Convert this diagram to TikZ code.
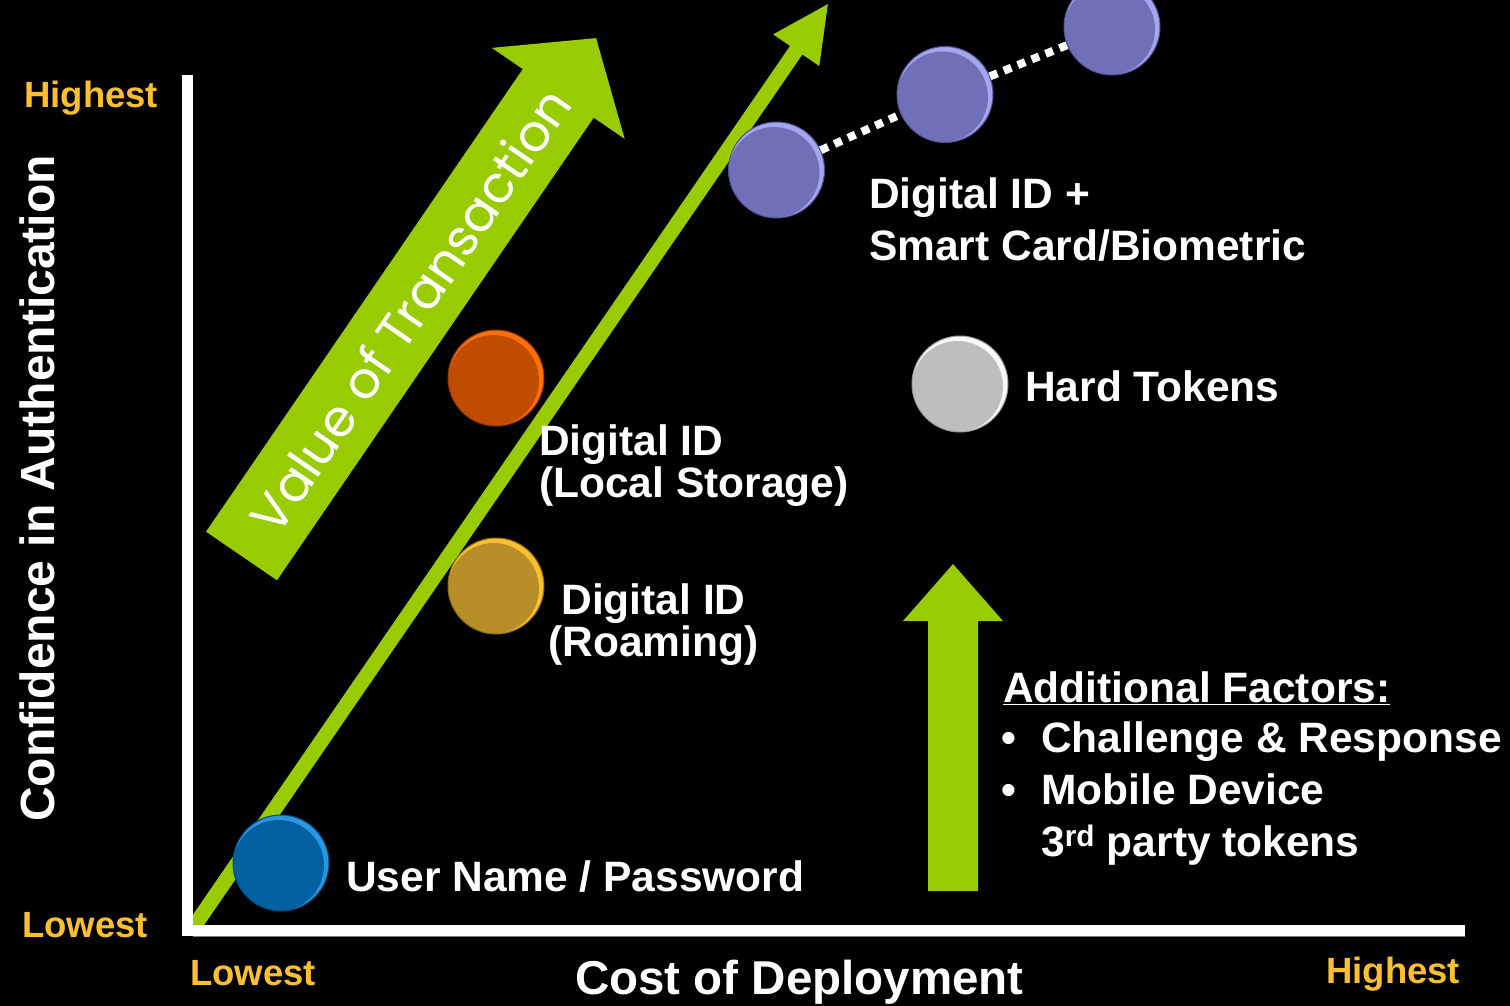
\documentclass[tikz,border=0pt]{standalone}
\usepackage{fontspec}
\setmainfont{Liberation Sans}
\newfontfamily\vfont{Poppins}
\definecolor{grn}{RGB}{153,204,0}
\definecolor{axisyellow}{RGB}{250,192,50}
\definecolor{bluemain}{RGB}{0,96,160}
\definecolor{bluelight}{RGB}{40,150,225}
\definecolor{bluedark}{RGB}{0,70,120}
\definecolor{orgmain}{RGB}{192,76,0}
\definecolor{orglight}{RGB}{255,112,10}
\definecolor{orgdark}{RGB}{140,50,0}
\definecolor{goldmain}{RGB}{184,142,40}
\definecolor{goldlight}{RGB}{250,192,50}
\definecolor{golddark}{RGB}{140,105,25}
\definecolor{graymain}{RGB}{190,190,190}
\definecolor{graylight}{RGB}{248,248,248}
\definecolor{graydark}{RGB}{150,150,150}
\definecolor{purmain}{RGB}{112,112,184}
\definecolor{purlight}{RGB}{165,165,240}
\definecolor{purdark}{RGB}{80,80,140}
\begin{document}
\begin{tikzpicture}[x=1pt,y=-1pt,
  lbl/.style={text=white,font=\bfseries\fontsize{42.5}{50}\selectfont,inner sep=0pt,anchor=base west},
  ylbl/.style={text=axisyellow,font=\bfseries\fontsize{36.5}{42}\selectfont,inner sep=0pt,anchor=base west},
  ball/.style n args={3}{circle,minimum size=96pt,inner sep=0pt,fill=#2,draw=#3,line width=1pt,
    path picture={\fill[#1] ([xshift=-2.5pt,yshift=-2.5pt]path picture bounding box.center) circle (45.5pt);}},
  dotline/.style={white,line width=8pt,dash pattern=on 8pt off 7pt}]
\useasboundingbox (0,0) rectangle (1510,1006);
\fill[black] (0,0) rectangle (1510,1006);
\clip (0,0) rectangle (1510,1006);

% big "Value of Transaction" arrow
\begin{scope}[shift={(241.5,556)},rotate=55.6]
  \fill[grn] (0,-43) -- (560.7,-43) -- (560.7,-80.5) -- (627.7,0) -- (560.7,80.5) -- (560.7,43) -- (0,43) -- cycle;
  \node[transform shape,text=white,font=\vfont\fontsize{51}{60}\selectfont,inner sep=0pt] (vot) at (298,0) {Value of Transaction};
\end{scope}

% thin diagonal arrow
\begin{scope}[shift={(195,925)},rotate=55.5]
  \fill[grn] (-6,-7.5) -- (1061.5,-7.5) -- (1061.5,-28) -- (1117.5,0) -- (1061.5,28) -- (1061.5,7.5) -- (-6,7.5) -- cycle;
\end{scope}

% vertical arrow
\fill[grn] (928,891) -- (928,621) -- (903,621) -- (953,564) -- (1003,621) -- (978,621) -- (978,891) -- cycle;

% axes
\fill[white] (182,75) rectangle (193,936);
\fill[white] (182,925) rectangle (1465,936);
\draw[gray,line width=1pt] (193,936.5) -- (1465,936.5);

% balls
\node[ball={bluemain}{bluelight}{bluedark}] (blue) at (281,863) {};
\node[ball={orgmain}{orglight}{orgdark}] (orange) at (496,378) {};
\node[ball={goldmain}{goldlight}{golddark}] (gold) at (496,586) {};
\node[ball={graymain}{graylight}{graydark}] (grayb) at (960,384) {};
\node[ball={purmain}{purlight}{purdark}] (p1) at (776.5,170) {};
\node[ball={purmain}{purlight}{purdark}] (p2) at (945,94.5) {};
\node[ball={purmain}{purlight}{purdark}] (p3) at (1112,27) {};
\draw[dotline] (p1) -- (p2);
\draw[dotline] (p2) -- (p3);

% labels
\node[lbl] (t1a) at (869,208) {Digital ID +};
\node[lbl] (t1b) at (869,260) {Smart Card/Biometric};
\node[lbl] (t2) at (1025,401) {Hard Tokens};
\node[lbl] (t3a) at (539,455) {Digital ID};
\node[lbl] (t3b) at (539,497) {(Local Storage)};
\node[lbl,anchor=base] (t4a) at (653.5,614) {Digital ID};
\node[lbl,anchor=base] (t4b) at (653.5,656) {(Roaming)};
\node[lbl] (t5) at (346,891) {User Name / Password};
\node[lbl] (af) at (1003,702) {\underline{Additional Factors:}};
\node[lbl] (b1) at (1001,752) {\textbullet};
\node[lbl] (f1) at (1041,752) {Challenge \& Response};
\node[lbl] (b2) at (1001,804) {\textbullet};
\node[lbl] (f2) at (1041,804) {Mobile Device};
\node[lbl] (f3) at (1041,856) {3\textsuperscript{rd} party tokens};
\node[lbl,font=\bfseries\fontsize{47.5}{50}\selectfont] (xl) at (575,994) {Cost of Deployment};
\node[lbl,font=\bfseries\fontsize{48}{50}\selectfont,rotate=90] (yl) at (54,822) {Confidence in Authentication};
\node[ylbl] (yh) at (24,108) {Highest};
\node[ylbl] (yw) at (22,937) {Lowest};
\node[ylbl] (xw) at (190,985) {Lowest};
\node[ylbl] (xh) at (1326,983) {Highest};
\end{tikzpicture}
\end{document}
